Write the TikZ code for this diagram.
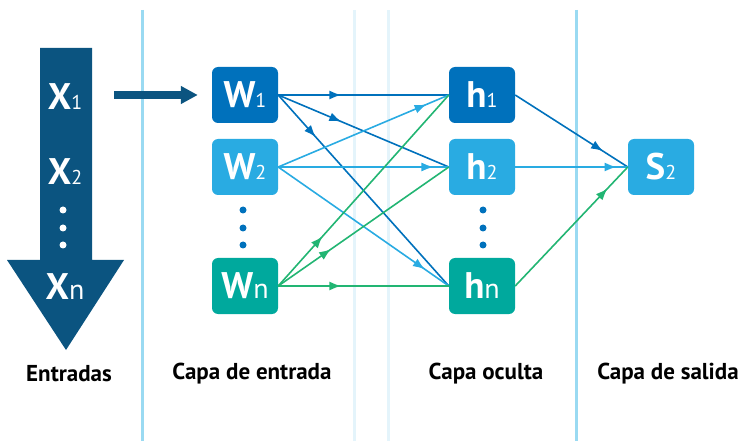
\documentclass[tikz,border=0pt]{standalone}
\usepackage{fontspec}
\setmainfont{PT Sans}
\usetikzlibrary{arrows.meta,decorations.markings}

\definecolor{navy}{HTML}{0B5480}
\definecolor{blueA}{HTML}{0071BC}
\definecolor{blueB}{HTML}{29ABE2}
\definecolor{tealC}{HTML}{00A99D}
\definecolor{greenC}{HTML}{22B573}
\definecolor{guide}{HTML}{9ADAF2}
\definecolor{guidelight}{HTML}{E4F4FB}

\newcommand{\idx}[2][20]{{\mdseries\fontsize{#1}{#1}\selectfont #2}}

\tikzset{
	unit/.style={fill=#1, rounded corners=6pt, minimum width=66pt, minimum height=56pt, inner sep=0pt, text=white, font=\bfseries\fontsize{37}{37}\selectfont},
	xin/.style={text=white, inner sep=0pt, font=\bfseries\fontsize{37}{37}\selectfont},
	caption/.style={font=\bfseries\fontsize{23}{23}\selectfont},
	link/.style={line width=1.6pt},
	tipat/.style={postaction={decorate}, decoration={markings, mark=at position #1 with {\arrow{Latex[length=12pt,width=9pt]}}}}
}

\begin{document}
\begin{tikzpicture}[x=1pt, y=-1pt]
	\useasboundingbox (0,0) rectangle (740,441);
	% guides between the layers
	\draw[guide, line width=3pt] (142,10) -- (142,441);
	\draw[guidelight, line width=3pt] (354,10) -- (354,441);
	\draw[guidelight, line width=3pt] (388,10) -- (388,441);
	\draw[guide, line width=3pt] (576,10) -- (576,441);
	% inputs
	\fill[navy] (40,48) -- (92,48) -- (92,260) -- (124,260) -- (66,350) -- (7,260) -- (40,260) -- cycle;
	\node[xin] (X1) at (65,97) {X\idx{1}};
	\node[xin] (X2) at (65,172) {X\idx{2}};
	\node[xin] (Xn) at (65,287) {X\idx[28]{n}};
	\coordinate (in) at (114,95);
	% layers
	\node[unit=blueA] (W1) at (245,95) {W\idx{1}};
	\node[unit=blueB] (W2) at (245,167) {W\idx{2}};
	\node[unit=tealC] (Wn) at (245,286) {W\idx[28]{n}};
	\node[unit=blueA] (h1) at (482,95) {h\idx{1}};
	\node[unit=blueB] (h2) at (482,167) {h\idx{2}};
	\node[unit=tealC] (hn) at (482,286) {h\idx[28]{n}};
	\node[unit=blueB] (S2) at (661,167) {S\idx{2}};
	\foreach \y in {210,228,245} {
		\fill[white] (63,\y) circle[radius=3.5pt];
		\fill[blueA] (243,\y) circle[radius=3.5pt];
		\fill[blueA] (483,\y) circle[radius=3.5pt];
	}
	\draw[navy, line width=8pt, shorten >=14pt, -{Triangle[length=17pt,width=17pt]}] (in) -- (W1.west);
	% connections
	\draw[link, blueA, tipat=0.37] (W1.east) -- (h1.west);
	\draw[link, blueA, tipat=0.37] (W1.east) -- (h2.west);
	\draw[link, blueA, tipat=0.22] (W1.east) -- (hn.west);
	\draw[link, blueB, tipat=0.87] (W2.east) -- (h1.west);
	\draw[link, blueB, tipat=0.91] (W2.east) -- (h2.west);
	\draw[link, blueB, tipat=0.86] (W2.east) -- (hn.west);
	\draw[link, greenC, tipat=0.26] (Wn.east) -- (h1.west);
	\draw[link, greenC, tipat=0.31] (Wn.east) -- (h2.west);
	\draw[link, greenC, tipat=0.37] (Wn.east) -- (hn.west);
	\draw[link, blueA, tipat=0.78] (h1.east) -- (S2.west);
	\draw[link, blueB, tipat=0.9] (h2.east) -- (S2.west);
	\draw[link, greenC, tipat=0.82] (hn.east) -- (S2.west);
	% captions
	\node[caption] (c1) at (69,374) {Entradas};
	\node[caption] (c2) at (252,374) {Capa de entrada};
	\node[caption] (c3) at (486,374) {Capa oculta};
	\node[caption] (c4) at (668,374) {Capa de salida};
\end{tikzpicture}
\end{document}
